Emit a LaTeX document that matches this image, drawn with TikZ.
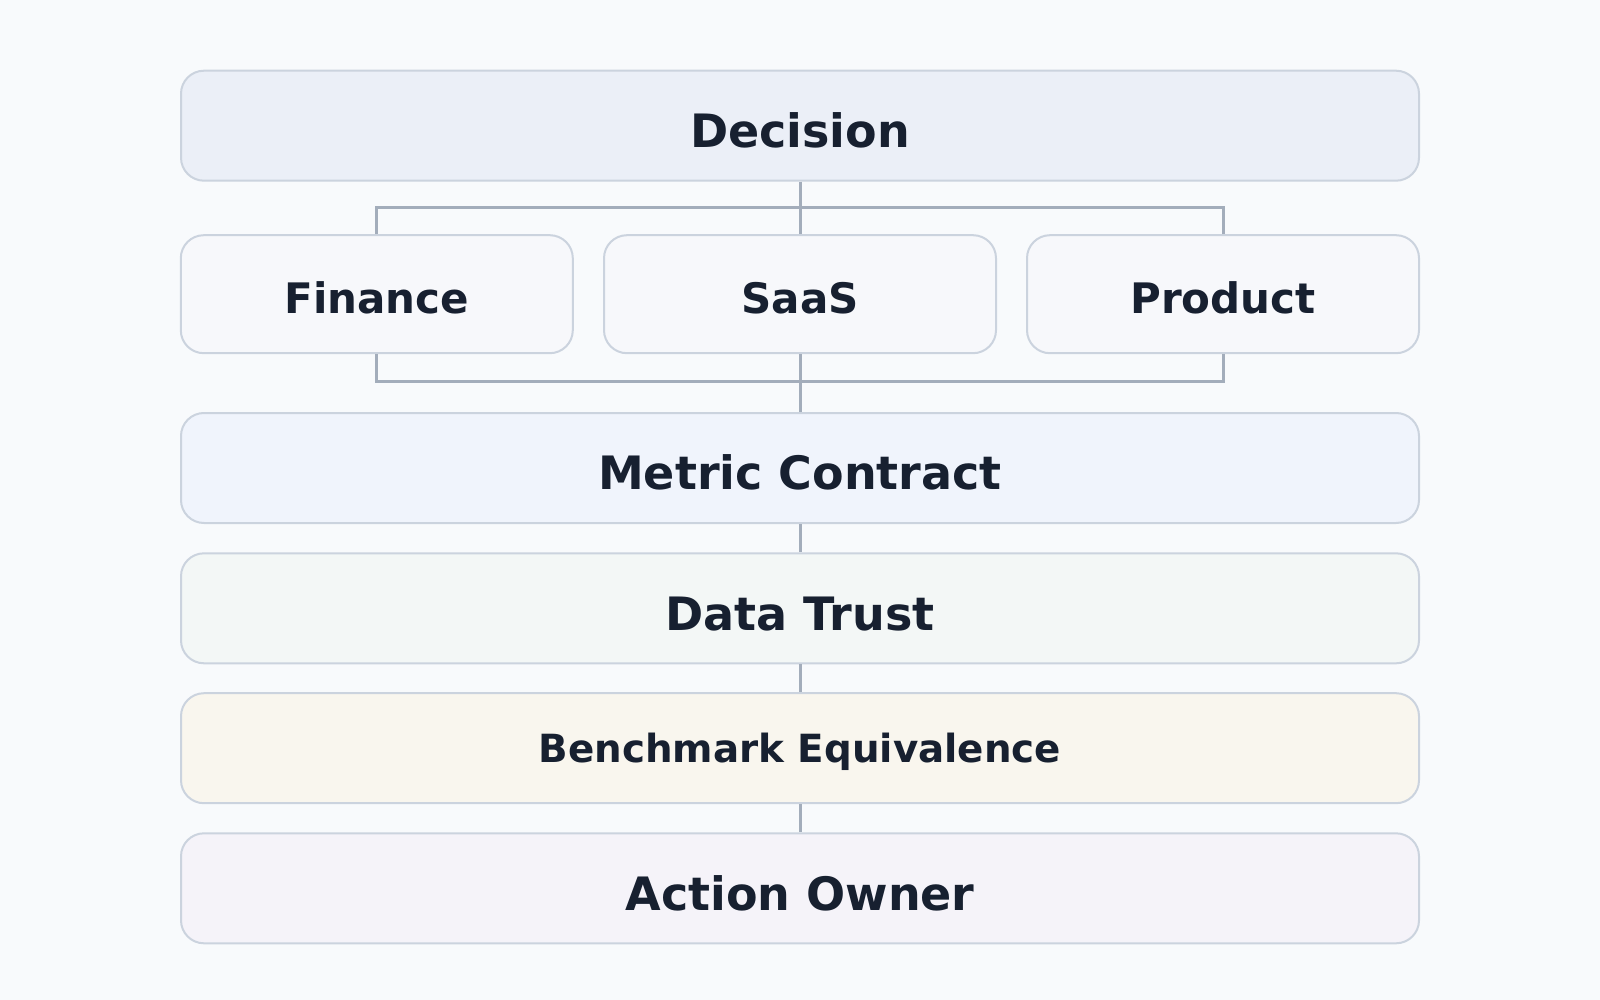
\documentclass[tikz,border=0pt]{standalone}
\usepackage{fontspec}
\setmainfont{DejaVu Sans}
\definecolor{bgcol}{HTML}{F8FAFC}
\definecolor{bordercol}{HTML}{CBD3DE}
\definecolor{conncol}{HTML}{A3ADBB}
\definecolor{textcol}{HTML}{172030}
\definecolor{decfill}{HTML}{EBEFF7}
\definecolor{rowfill}{HTML}{F7F8FB}
\definecolor{metfill}{HTML}{F0F4FC}
\definecolor{trustfill}{HTML}{F3F7F6}
\definecolor{benchfill}{HTML}{F9F6EE}
\definecolor{actfill}{HTML}{F5F3F9}
\begin{document}
\begin{tikzpicture}[x=1pt,y=-1pt,
  layerbox/.style={draw=bordercol, line width=2pt, rounded corners=23pt,
    inner sep=0pt, text=textcol,
    font=\bfseries\fontsize{46}{50}\selectfont,
    text height=43.6pt, text depth=0pt,
    minimum width=1238pt, minimum height=110pt},
  sidebox/.style={layerbox, fill=rowfill, minimum width=392pt, minimum height=118pt,
    font=\bfseries\fontsize{42}{46}\selectfont, text height=37.6pt},
  conn/.style={draw=conncol, line width=3pt, line join=miter}]
\fill[bgcol] (0,0) rectangle (1600,1000);
\path[use as bounding box] (0,0) rectangle (1600,1000);

\node[layerbox, fill=decfill] (dec) at (800,125.7) {Decision};
\node[sidebox] (fin) at (376.8,294.2) {Finance};
\node[sidebox] (saa) at (800,294.2) {SaaS};
\node[sidebox] (pro) at (1223,294.2) {Product};
\node[layerbox, fill=metfill] (met) at (800,468) {Metric Contract};
\node[layerbox, fill=trustfill] (tru) at (800,608.3) {Data Trust};
\node[layerbox, fill=benchfill, font=\bfseries\fontsize{38.8}{42}\selectfont, text height=28.6pt] (ben) at (800,748.2) {Benchmark Equivalence};
\node[layerbox, fill=actfill] (act) at (800,888.3) {Action Owner};

\coordinate (j1) at (800,208);
\coordinate (j2) at (800,381);

\draw[conn] (dec.south) -- (j1);
\draw[conn] (fin.north) |- (j1);
\draw[conn] (pro.north) |- (j1);
\draw[conn] (saa.north) -- (j1);
\draw[conn] (fin.south) |- (j2);
\draw[conn] (pro.south) |- (j2);
\draw[conn] (saa.south) -- (j2);
\draw[conn] (j2) -- (met.north);
\draw[conn] (met.south) -- (tru.north);
\draw[conn] (tru.south) -- (ben.north);
\draw[conn] (ben.south) -- (act.north);
\end{tikzpicture}
\end{document}
